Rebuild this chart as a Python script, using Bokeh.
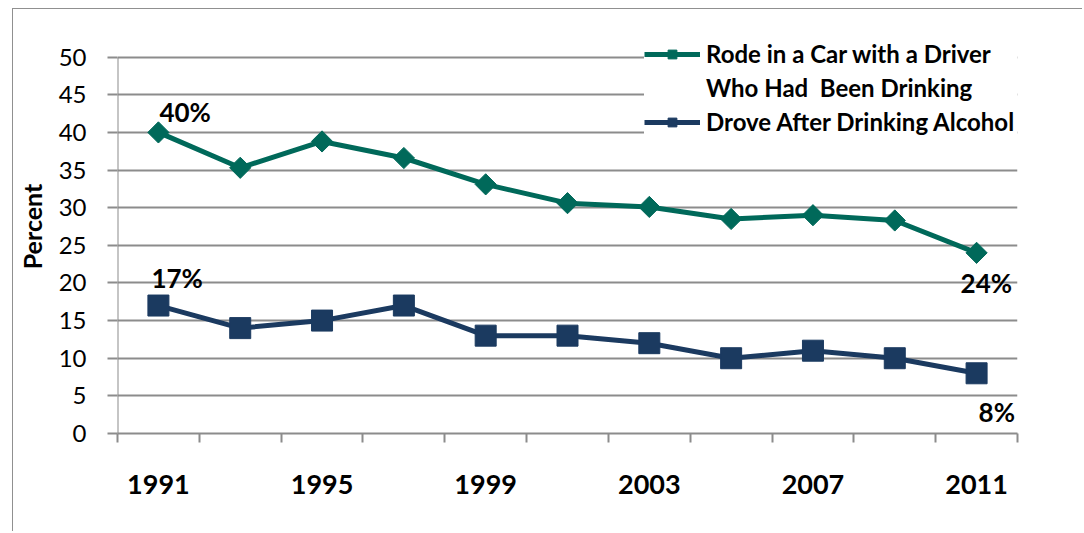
import math
from bokeh.plotting import figure
from bokeh.models import (ColumnDataSource, Range1d, FixedTicker, Legend, LegendItem)
from bokeh.core.properties import value
from bokeh.embed import file_html
from bokeh.resources import INLINE

# ---- data ----
years = [1991, 1993, 1995, 1997, 1999, 2001, 2003, 2005, 2007, 2009, 2011]
rode_with_drinker = [40.0, 35.3, 38.8, 36.6, 33.1, 30.6, 30.1, 28.5, 29.0, 28.3, 24.0]
drove_after_drinking = [17, 14, 15, 17, 13, 13, 12, 10, 11, 10, 8]
year_labels = [1991, 1995, 1999, 2003, 2007, 2011]
y_ticks = [0, 5, 10, 15, 20, 25, 30, 35, 40, 45, 50]
series_name_lines = [["Rode in a Car with a Driver", "Who Had  Been Drinking"],
                     ["Drove After Drinking Alcohol"]]

GREEN = "#00695A"
NAVY = "#1B3A60"
GRID = "#8C8C8C"
FONT = "Lato"

# y range extends above the last tick so the legend (which sits partly above
# the 50 gridline) is not clipped by the frame
p = figure(width=1070, height=523, output_backend="svg", toolbar_location=None,
           x_range=Range1d(1990, 2012), y_range=Range1d(0, 55),
           min_border_left=103, min_border_right=66, min_border_top=10,
           min_border_bottom=99,
           styles={"margin-left": "12px", "margin-top": "8px",
                   "border-left": "1.5px solid #909090",
                   "border-top": "1.5px solid #909090"})
p.outline_line_color = None
p.background_fill_color = "white"

# grid
p.xgrid.grid_line_color = None
p.ygrid.grid_line_color = GRID
p.ygrid.grid_line_width = 2

# y axis (axis line drawn only up to the last tick, like the value axis)
p.yaxis.ticker = FixedTicker(ticks=y_ticks)
p.yaxis.axis_line_color = None
p.yaxis.major_tick_line_color = GRID
p.yaxis.major_tick_line_width = 2
p.yaxis.major_tick_out = 10
p.yaxis.major_tick_in = 0
p.yaxis.minor_tick_line_color = None
p.yaxis.major_label_text_font = FONT
p.yaxis.major_label_text_font_size = "24px"
p.yaxis.major_label_text_color = "black"
p.yaxis.major_label_standoff = 21
p.yaxis.axis_label = "Percent"
p.yaxis.axis_label_text_font = FONT
p.yaxis.axis_label_text_font_size = "25px"
p.yaxis.axis_label_text_font_style = "bold"
p.yaxis.axis_label_text_color = "black"
p.yaxis.axis_label_standoff = 9

# x axis: category-style ticks between points
boundaries = [years[0] - 1] + [y + 1 for y in years]
p.xaxis.ticker = FixedTicker(ticks=year_labels, minor_ticks=boundaries)
p.xaxis.axis_line_color = GRID
p.xaxis.axis_line_width = 2
p.xaxis.major_tick_line_color = None
p.xaxis.major_tick_out = 0
p.xaxis.major_tick_in = 0
p.xaxis.minor_tick_line_color = GRID
p.xaxis.minor_tick_line_width = 2
p.xaxis.minor_tick_out = 9
p.xaxis.minor_tick_in = 0
p.xaxis.major_label_text_font = FONT
p.xaxis.major_label_text_font_size = "27px"
p.xaxis.major_label_text_font_style = "bold"
p.xaxis.major_label_text_color = "black"
p.xaxis.major_label_standoff = 32

# value-axis line from first to last tick
p.segment(x0=[boundaries[0]], y0=[y_ticks[0]], x1=[boundaries[0]], y1=[y_ticks[-1]],
          line_color=GRID, line_width=2)

src = ColumnDataSource(dict(x=years, rode=rode_with_drinker, drove=drove_after_drinking))

l1 = p.line("x", "rode", source=src, line_color=GREEN, line_width=5)
m1 = p.scatter("x", "rode", source=src, marker="square", angle=math.pi / 4,
               size=15, fill_color=GREEN, line_color=GREEN)
l2 = p.line("x", "drove", source=src, line_color=NAVY, line_width=5)
m2 = p.scatter("x", "drove", source=src, marker="square", size=21,
               fill_color=NAVY, line_color=NAVY)

# data labels on first and last points
lab = ColumnDataSource(dict(
    x=[years[0], years[-1], years[0], years[-1]],
    y=[rode_with_drinker[0], rode_with_drinker[-1], drove_after_drinking[0], drove_after_drinking[-1]],
    text=["%d%%" % round(rode_with_drinker[0]), "%d%%" % round(rode_with_drinker[-1]),
          "%d%%" % round(drove_after_drinking[0]), "%d%%" % round(drove_after_drinking[-1])],
    xo=[1, -16, -7, 2],
    yo=[-20, 30, -28, 39],
))
p.text("x", "y", text="text", source=lab, x_offset="xo", y_offset="yo",
       text_font=value(FONT), text_font_size="26px", text_font_style="bold",
       text_color="black", text_align="left", text_baseline="alphabetic")

legend = Legend(items=[LegendItem(label=series_name_lines[0][0], renderers=[l1, m1]),
                       LegendItem(label=series_name_lines[0][1], renderers=[]),
                       LegendItem(label=series_name_lines[1][0], renderers=[l2, m2])],
                location=(527, 297))
legend.label_text_font = FONT
legend.label_text_font_size = "24px"
legend.label_text_font_style = "bold"
legend.label_text_color = "black"
legend.glyph_width = 56
legend.glyph_height = 22
legend.label_standoff = 6
legend.label_width = 360
legend.spacing = 5
legend.padding = 12
legend.margin = 0
legend.border_line_color = None
legend.background_fill_color = "white"
legend.background_fill_alpha = 1.0
p.add_layout(legend, "center")

open("out.html", "w").write(file_html(p, INLINE))
